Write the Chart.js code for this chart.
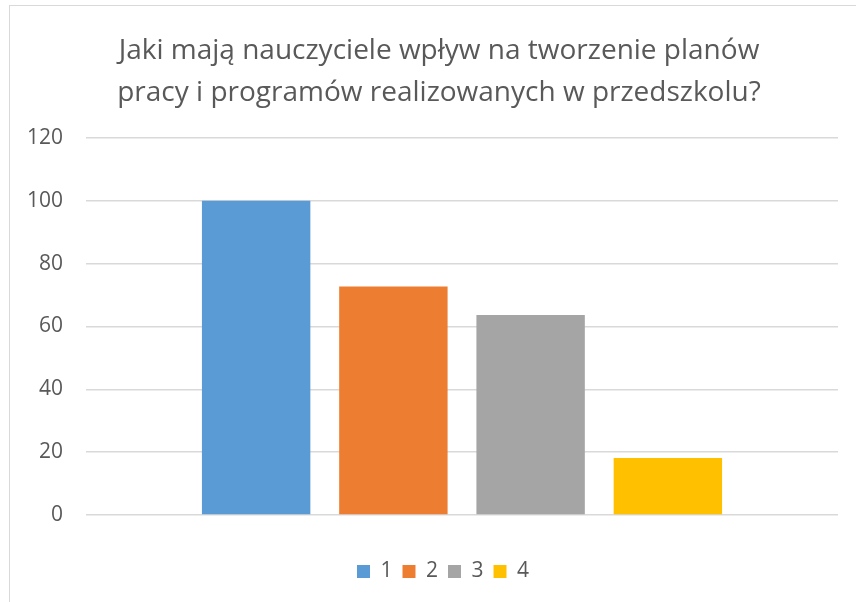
<!DOCTYPE html>
<html>
<head>
<meta charset="utf-8">
<script src="https://cdn.jsdelivr.net/npm/chart.js@4"></script>
<style>
  body { margin: 0; background: #fff; }
  #wrap { position: relative; width: 856px; height: 602px; }
  #frame { position: absolute; left: 9px; top: 5px; right: 0; bottom: 0;
           border-top: 1.5px solid #d9d9d9; border-left: 1.5px solid #d9d9d9; }
  canvas { position: absolute; left: 0; top: 0; }
</style>
</head>
<body>
<div id="wrap">
  <div id="frame"></div>
  <canvas id="chart" width="856" height="602"></canvas>
</div>
<script>
// one category, four answers shown as separate series
var categories = [''];
var seriesLabels = ['1', '2', '3', '4'];
var seriesValues = [100, 72.73, 63.64, 18.18];
var seriesColors = ['#5B9BD5', '#ED7D31', '#A5A5A5', '#FFC000'];
var yTicks = [0, 20, 40, 60, 80, 100, 120];

var textColor = '#595959';
var gridColor = '#D9D9D9';

var datasets = [];
for (var i = 0; i < seriesLabels.length; i++) {
    datasets.push({
        label: seriesLabels[i],
        data: [seriesValues[i]],
        backgroundColor: seriesColors[i],
        borderWidth: 0,
        categoryPercentage: 0.73,
        barPercentage: 0.79
    });
}

// title and legend sit a bit right of the plot centre in the original
var shiftBoxes = {
    id: 'shiftBoxes',
    afterLayout: function(chart) {
        chart.titleBlock.left += 10;
        chart.titleBlock.right += 10;
        chart.legend.left += 14;
        chart.legend.right += 14;
    }
};

new Chart(document.getElementById('chart').getContext('2d'), {
    type: 'bar',
    data: {
        labels: categories,
        datasets: datasets
    },
    plugins: [shiftBoxes],
    options: {
        responsive: false,
        animation: false,
        layout: {
            padding: { left: 20, right: 18, top: 30, bottom: 10 }
        },
        plugins: {
            title: {
                display: true,
                text: ['Jaki mają nauczyciele wpływ na tworzenie planów',
                       'pracy i programów realizowanych w przedszkolu?'],
                color: textColor,
                font: { family: 'Open Sans', size: 28, weight: 'normal', lineHeight: 1.5 },
                padding: { top: 0, bottom: 24 }
            },
            legend: {
                position: 'bottom',
                labels: {
                    color: textColor,
                    font: { family: 'Open Sans', size: 21 },
                    boxWidth: 13,
                    boxHeight: 13,
                    padding: 10
                }
            },
            tooltip: { enabled: false }
        },
        scales: {
            x: {
                grid: { display: false },
                border: { display: false },
                ticks: { display: false },
                afterFit: function(scale) { scale.height = 36; }
            },
            y: {
                min: 0,
                max: 120,
                afterBuildTicks: function(scale) {
                    scale.ticks = yTicks.map(function(v) { return { value: v }; });
                },
                grid: { color: gridColor, lineWidth: 1.5, drawTicks: false },
                border: { display: false },
                ticks: {
                    color: textColor,
                    font: { family: 'Open Sans', size: 21 },
                    padding: 23
                },
                afterFit: function(scale) { scale.width = 66; }
            }
        }
    }
});
</script>
</body>
</html>
